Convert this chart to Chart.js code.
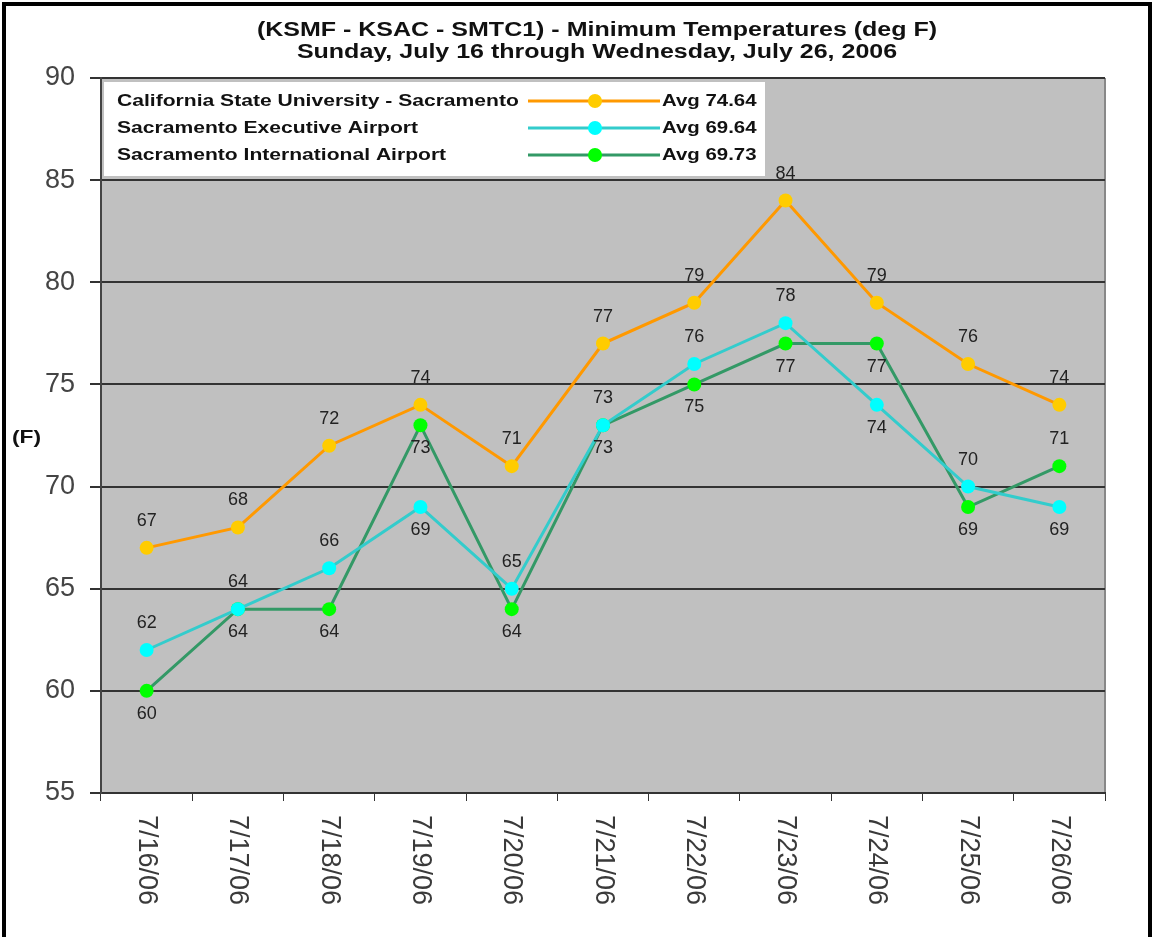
<!DOCTYPE html>
<html>
<head>
<meta charset="utf-8">
<script src="https://cdn.jsdelivr.net/npm/chart.js@4.4.1/dist/chart.umd.min.js"></script>
<style>
html,body{margin:0;padding:0;background:#fff;}
#wrap{position:relative;width:1154px;height:937px;}
</style>
</head>
<body>
<div id="wrap"><canvas id="c" width="1154" height="937"></canvas></div>
<script>
const categories = ['7/16/06','7/17/06','7/18/06','7/19/06','7/20/06','7/21/06','7/22/06','7/23/06','7/24/06','7/25/06','7/26/06'];
const seriesNames = ['California State University - Sacramento','Sacramento Executive Airport','Sacramento International Airport'];
const csusValues = [67,68,72,74,71,77,79,84,79,76,74];
const execValues = [62,64,66,69,65,73,76,78,74,70,69];
const intlValues = [60,64,64,73,64,73,75,77,77,69,71];
const avgLabels = ['Avg 74.64','Avg 69.64','Avg 69.73'];
const yTicks = [55,60,65,70,75,80,85,90];
const titleLines = ['(KSMF - KSAC - SMTC1) - Minimum Temperatures (deg F)','Sunday, July 16 through Wednesday, July 26, 2006'];
const yAxisLabel = '(F)';
// label placement (style)
const csusPos = ['a','a','a','a','a','a','a','a','a','a','a'];
const execPos = ['a','a','a','b','a','a','a','a','b','a','b'];
const intlPos = ['b','b','b','b','b','b','b','b','b','b','a'];

const FONT = '"Liberation Sans", Arial, sans-serif';

function sText(ctx, text, x, y, sx, align){
  ctx.save();
  ctx.translate(x, y);
  ctx.scale(sx, 1);
  ctx.textAlign = align;
  ctx.fillText(text, 0, 0);
  ctx.restore();
}

const decor = {
  id:'decor',
  afterDraw(chart){
    const ctx = chart.ctx;
    const ca = chart.chartArea;
    ctx.save();
    // data labels
    ctx.font = '18px ' + FONT;
    ctx.fillStyle = '#222';
    ctx.textAlign = 'center';
    ctx.textBaseline = 'middle';
    const posArr = [csusPos, execPos, intlPos];
    chart.data.datasets.forEach((ds, di) => {
      const meta = chart.getDatasetMeta(di);
      meta.data.forEach((pt, i) => {
        const up = posArr[di][i] === 'a';
        ctx.fillText(String(ds.data[i]), pt.x, pt.y + (up ? -27 : 23));
      });
    });
    // title
    ctx.font = 'bold 20px ' + FONT;
    ctx.fillStyle = '#111';
    const cx = 597;
    sText(ctx, titleLines[0], cx, 30, 1.25, 'center');
    sText(ctx, titleLines[1], cx, 52, 1.25, 'center');
    // y axis label
    ctx.font = 'bold 19px ' + FONT;
    sText(ctx, yAxisLabel, 12, 438, 1.2, 'left');
    // x labels rotated clockwise
    const xs = chart.scales.x;
    ctx.font = '27px ' + FONT;
    ctx.fillStyle = '#3a3a3a';
    categories.forEach((lab, i) => {
      const x = xs.getPixelForValue(i);
      ctx.save();
      ctx.translate(x, ca.bottom + 22);
      ctx.rotate(Math.PI / 2);
      ctx.textAlign = 'left';
      ctx.textBaseline = 'middle';
      ctx.fillText(lab, 0, 0);
      ctx.restore();
    });
    // legend
    const lx = 104, ly = 82, lw = 661, lh = 94;
    ctx.fillStyle = '#fff';
    ctx.fillRect(lx, ly, lw, lh);
    const rows = [101, 128, 155];
    chart.data.datasets.forEach((ds, di) => {
      const y = rows[di];
      ctx.font = 'bold 17px ' + FONT;
      ctx.fillStyle = '#111';
      ctx.textBaseline = 'middle';
      sText(ctx, seriesNames[di], 117, y, 1.24, 'left');
      ctx.strokeStyle = ds.borderColor;
      ctx.lineWidth = 3;
      ctx.beginPath(); ctx.moveTo(528, y); ctx.lineTo(660, y); ctx.stroke();
      ctx.fillStyle = ds.pointBackgroundColor;
      ctx.beginPath(); ctx.arc(595, y, 7, 0, Math.PI * 2); ctx.fill();
      ctx.fillStyle = '#111';
      sText(ctx, avgLabels[di], 662, y, 1.2, 'left');
    });
    // outer frame
    ctx.strokeStyle = '#000';
    ctx.lineWidth = 4;
    ctx.strokeRect(4, 4, 1146, 960);
    ctx.restore();
  }
};

const bgPlugin = {
  id:'bg',
  beforeDraw(chart){
    const ca = chart.chartArea, ctx = chart.ctx;
    ctx.save();
    ctx.fillStyle = '#fff';
    ctx.fillRect(0,0,chart.width,chart.height);
    ctx.fillStyle = '#c0c0c0';
    ctx.fillRect(ca.left, ca.top, ca.right - ca.left, ca.bottom - ca.top);
    ctx.strokeStyle = '#888';
    ctx.lineWidth = 2;
    ctx.beginPath(); ctx.moveTo(ca.right, ca.top); ctx.lineTo(ca.right, ca.bottom); ctx.stroke();
    ctx.restore();
  }
};

function mk(label, data, line, marker){
  return {label, data, borderColor: line, backgroundColor: marker, pointBackgroundColor: marker,
    pointBorderColor: marker, pointRadius: 7, pointBorderWidth: 0, borderWidth: 3, tension: 0};
}

new Chart(document.getElementById('c'), {
  type:'line',
  data:{
    labels: categories,
    datasets:[
      mk(seriesNames[0], csusValues, '#ff9900', '#ffcc00'),
      mk(seriesNames[1], execValues, '#33cccc', '#00ffff'),
      mk(seriesNames[2], intlValues, '#339966', '#00ff00')
    ]
  },
  options:{
    responsive:false,
    animation:false,
    devicePixelRatio:1,
    layout:{padding:{top:78, right:49, left:0, bottom:0}},
    plugins:{legend:{display:false}, title:{display:false}, tooltip:{enabled:false}},
    scales:{
      x:{
        offset:true,
        grid:{display:true, drawOnChartArea:false, drawTicks:true, tickLength:8, color:'#333', lineWidth:1, offset:true},
        border:{color:'#333', width:2},
        ticks:{display:false},
        afterFit(s){ s.height = 144; }
      },
      y:{
        min:55, max:90,
        afterBuildTicks(s){ s.ticks = yTicks.map(v => ({value:v})); },
        grid:{color:'#333', lineWidth:2, tickLength:11, drawTicks:true},
        border:{color:'#444', width:2},
        ticks:{font:{family:FONT, size:27}, color:'#444', padding:15},
        afterFit(s){ s.width = 101; }
      }
    }
  },
  plugins:[bgPlugin, decor]
});
</script>
</body>
</html>
